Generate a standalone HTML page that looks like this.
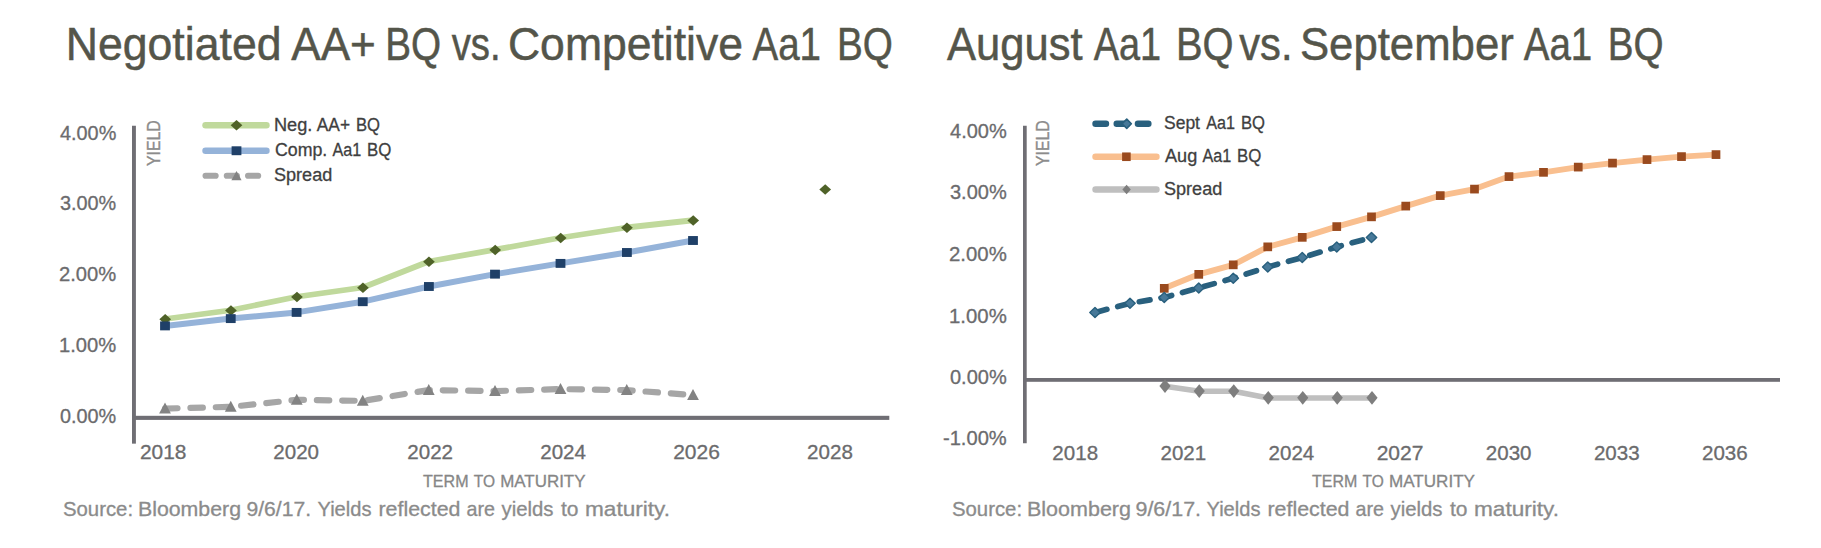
<!DOCTYPE html>
<html lang="en"><head><meta charset="utf-8"><title>Yield charts</title>
<style>
html,body{margin:0;padding:0;background:#fff;}
svg{display:block;font-family:"Liberation Sans", sans-serif;}
</style></head><body>
<svg width="1821" height="548" viewBox="0 0 1821 548">
<rect width="1821" height="548" fill="#ffffff"/>
<text y="60.4" font-size="45.5" fill="#54554a" stroke="#54554a" stroke-width="0.5"><tspan x="65.67" textLength="215.9" lengthAdjust="spacingAndGlyphs">Negotiated</tspan> <tspan x="291.22" textLength="84.61" lengthAdjust="spacingAndGlyphs">AA+</tspan> <tspan x="385.26" textLength="55.92" lengthAdjust="spacingAndGlyphs">BQ</tspan> <tspan x="451.7" textLength="48.96" lengthAdjust="spacingAndGlyphs">vs.</tspan> <tspan x="507.97" textLength="235.06" lengthAdjust="spacingAndGlyphs">Competitive</tspan> <tspan x="752.47" textLength="68.57" lengthAdjust="spacingAndGlyphs">Aa1</tspan> <tspan x="837.02" textLength="55.92" lengthAdjust="spacingAndGlyphs">BQ</tspan></text>
<text y="60.4" font-size="45.5" fill="#54554a" stroke="#54554a" stroke-width="0.5"><tspan x="947.0" textLength="135.51" lengthAdjust="spacingAndGlyphs">August</tspan> <tspan x="1093.71" textLength="67.35" lengthAdjust="spacingAndGlyphs">Aa1</tspan> <tspan x="1176.01" textLength="57.65" lengthAdjust="spacingAndGlyphs">BQ</tspan> <tspan x="1239.22" textLength="53.28" lengthAdjust="spacingAndGlyphs">vs.</tspan> <tspan x="1299.98" textLength="213.78" lengthAdjust="spacingAndGlyphs">September</tspan> <tspan x="1523.73" textLength="68.57" lengthAdjust="spacingAndGlyphs">Aa1</tspan> <tspan x="1607.79" textLength="55.84" lengthAdjust="spacingAndGlyphs">BQ</tspan></text>
<text y="139.6" font-size="20.2" fill="#6b6b6d" stroke="#6b6b6d" stroke-width="0.3"><tspan x="60.0" textLength="56.28" lengthAdjust="spacingAndGlyphs">4.00%</tspan></text>
<text y="210.35" font-size="20.2" fill="#6b6b6d" stroke="#6b6b6d" stroke-width="0.3"><tspan x="59.96" textLength="56.31" lengthAdjust="spacingAndGlyphs">3.00%</tspan></text>
<text y="281.1" font-size="20.2" fill="#6b6b6d" stroke="#6b6b6d" stroke-width="0.3"><tspan x="58.98" textLength="57.3" lengthAdjust="spacingAndGlyphs">2.00%</tspan></text>
<text y="351.85" font-size="20.2" fill="#6b6b6d" stroke="#6b6b6d" stroke-width="0.3"><tspan x="58.98" textLength="57.3" lengthAdjust="spacingAndGlyphs">1.00%</tspan></text>
<text y="422.6" font-size="20.2" fill="#6b6b6d" stroke="#6b6b6d" stroke-width="0.3"><tspan x="59.96" textLength="56.31" lengthAdjust="spacingAndGlyphs">0.00%</tspan></text>
<text y="459.4" font-size="20.2" fill="#6b6b6d" stroke="#6b6b6d" stroke-width="0.3"><tspan x="139.99" textLength="46.51" lengthAdjust="spacingAndGlyphs">2018</tspan></text>
<text y="459.4" font-size="20.2" fill="#6b6b6d" stroke="#6b6b6d" stroke-width="0.3"><tspan x="273.34" textLength="45.71" lengthAdjust="spacingAndGlyphs">2020</tspan></text>
<text y="459.4" font-size="20.2" fill="#6b6b6d" stroke="#6b6b6d" stroke-width="0.3"><tspan x="407.3" textLength="45.69" lengthAdjust="spacingAndGlyphs">2022</tspan></text>
<text y="459.4" font-size="20.2" fill="#6b6b6d" stroke="#6b6b6d" stroke-width="0.3"><tspan x="540.27" textLength="45.69" lengthAdjust="spacingAndGlyphs">2024</tspan></text>
<text y="459.4" font-size="20.2" fill="#6b6b6d" stroke="#6b6b6d" stroke-width="0.3"><tspan x="673.19" textLength="46.73" lengthAdjust="spacingAndGlyphs">2026</tspan></text>
<text y="459.4" font-size="20.2" fill="#6b6b6d" stroke="#6b6b6d" stroke-width="0.3"><tspan x="807.11" textLength="45.78" lengthAdjust="spacingAndGlyphs">2028</tspan></text>
<text y="486.5" font-size="16.5" fill="#868686" stroke="#868686" stroke-width="0.3"><tspan x="423.0" textLength="45.52" lengthAdjust="spacingAndGlyphs">TERM</tspan> <tspan x="473.73" textLength="21.27" lengthAdjust="spacingAndGlyphs">TO</tspan> <tspan x="500.23" textLength="85.28" lengthAdjust="spacingAndGlyphs">MATURITY</tspan></text>
<text y="516" font-size="20.3" fill="#8b8b8b" stroke="#8b8b8b" stroke-width="0.3"><tspan x="62.98" textLength="70.08" lengthAdjust="spacingAndGlyphs">Source:</tspan> <tspan x="137.98" textLength="103.05" lengthAdjust="spacingAndGlyphs">Bloomberg</tspan> <tspan x="246.45" textLength="64.6" lengthAdjust="spacingAndGlyphs">9/6/17.</tspan> <tspan x="317.49" textLength="54.03" lengthAdjust="spacingAndGlyphs">Yields</tspan> <tspan x="378.48" textLength="82.05" lengthAdjust="spacingAndGlyphs">reflected</tspan> <tspan x="466.49" textLength="28.53" lengthAdjust="spacingAndGlyphs">are</tspan> <tspan x="501.49" textLength="52.03" lengthAdjust="spacingAndGlyphs">yields</tspan> <tspan x="560.98" textLength="17.53" lengthAdjust="spacingAndGlyphs">to</tspan> <tspan x="584.96" textLength="85.09" lengthAdjust="spacingAndGlyphs">maturity.</tspan></text>
<text y="130.6" font-size="17.6" fill="#3f3f3f" stroke="#3f3f3f" stroke-width="0.3"><tspan x="273.94" textLength="38.39" lengthAdjust="spacingAndGlyphs">Neg.</tspan> <tspan x="316.75" textLength="33.26" lengthAdjust="spacingAndGlyphs">AA+</tspan> <tspan x="355.95" textLength="24.05" lengthAdjust="spacingAndGlyphs">BQ</tspan></text>
<text y="156" font-size="17.6" fill="#3f3f3f" stroke="#3f3f3f" stroke-width="0.3"><tspan x="275.0" textLength="52.28" lengthAdjust="spacingAndGlyphs">Comp.</tspan> <tspan x="332.49" textLength="28.76" lengthAdjust="spacingAndGlyphs">Aa1</tspan> <tspan x="366.95" textLength="24.32" lengthAdjust="spacingAndGlyphs">BQ</tspan></text>
<text y="181" font-size="17.6" fill="#3f3f3f" stroke="#3f3f3f" stroke-width="0.3"><tspan x="273.96" textLength="58.36" lengthAdjust="spacingAndGlyphs">Spread</tspan></text>
<text y="137.5" font-size="20.2" fill="#6b6b6d" stroke="#6b6b6d" stroke-width="0.3"><tspan x="950.0" textLength="56.78" lengthAdjust="spacingAndGlyphs">4.00%</tspan></text>
<text y="199.2" font-size="20.2" fill="#6b6b6d" stroke="#6b6b6d" stroke-width="0.3"><tspan x="949.96" textLength="56.81" lengthAdjust="spacingAndGlyphs">3.00%</tspan></text>
<text y="260.9" font-size="20.2" fill="#6b6b6d" stroke="#6b6b6d" stroke-width="0.3"><tspan x="948.98" textLength="57.81" lengthAdjust="spacingAndGlyphs">2.00%</tspan></text>
<text y="322.6" font-size="20.2" fill="#6b6b6d" stroke="#6b6b6d" stroke-width="0.3"><tspan x="948.98" textLength="57.81" lengthAdjust="spacingAndGlyphs">1.00%</tspan></text>
<text y="384.3" font-size="20.2" fill="#6b6b6d" stroke="#6b6b6d" stroke-width="0.3"><tspan x="949.96" textLength="56.81" lengthAdjust="spacingAndGlyphs">0.00%</tspan></text>
<text y="444.6" font-size="20.2" fill="#6b6b6d" stroke="#6b6b6d" stroke-width="0.3"><tspan x="942.97" textLength="63.81" lengthAdjust="spacingAndGlyphs">-1.00%</tspan></text>
<text y="459.5" font-size="20.2" fill="#6b6b6d" stroke="#6b6b6d" stroke-width="0.3"><tspan x="1052.39" textLength="45.71" lengthAdjust="spacingAndGlyphs">2018</tspan></text>
<text y="459.5" font-size="20.2" fill="#6b6b6d" stroke="#6b6b6d" stroke-width="0.3"><tspan x="1160.51" textLength="45.67" lengthAdjust="spacingAndGlyphs">2021</tspan></text>
<text y="459.5" font-size="20.2" fill="#6b6b6d" stroke="#6b6b6d" stroke-width="0.3"><tspan x="1268.61" textLength="45.66" lengthAdjust="spacingAndGlyphs">2024</tspan></text>
<text y="459.5" font-size="20.2" fill="#6b6b6d" stroke="#6b6b6d" stroke-width="0.3"><tspan x="1376.68" textLength="46.73" lengthAdjust="spacingAndGlyphs">2027</tspan></text>
<text y="459.5" font-size="20.2" fill="#6b6b6d" stroke="#6b6b6d" stroke-width="0.3"><tspan x="1485.83" textLength="45.67" lengthAdjust="spacingAndGlyphs">2030</tspan></text>
<text y="459.5" font-size="20.2" fill="#6b6b6d" stroke="#6b6b6d" stroke-width="0.3"><tspan x="1593.92" textLength="45.69" lengthAdjust="spacingAndGlyphs">2033</tspan></text>
<text y="459.5" font-size="20.2" fill="#6b6b6d" stroke="#6b6b6d" stroke-width="0.3"><tspan x="1701.98" textLength="45.71" lengthAdjust="spacingAndGlyphs">2036</tspan></text>
<text y="486.5" font-size="16.5" fill="#868686" stroke="#868686" stroke-width="0.3"><tspan x="1312.0" textLength="45.29" lengthAdjust="spacingAndGlyphs">TERM</tspan> <tspan x="1362.49" textLength="21.27" lengthAdjust="spacingAndGlyphs">TO</tspan> <tspan x="1388.99" textLength="86.01" lengthAdjust="spacingAndGlyphs">MATURITY</tspan></text>
<text y="516" font-size="20.3" fill="#8b8b8b" stroke="#8b8b8b" stroke-width="0.3"><tspan x="951.98" textLength="70.08" lengthAdjust="spacingAndGlyphs">Source:</tspan> <tspan x="1026.95" textLength="104.07" lengthAdjust="spacingAndGlyphs">Bloomberg</tspan> <tspan x="1135.46" textLength="65.63" lengthAdjust="spacingAndGlyphs">9/6/17.</tspan> <tspan x="1206.48" textLength="54.03" lengthAdjust="spacingAndGlyphs">Yields</tspan> <tspan x="1267.46" textLength="82.06" lengthAdjust="spacingAndGlyphs">reflected</tspan> <tspan x="1355.5" textLength="28.53" lengthAdjust="spacingAndGlyphs">are</tspan> <tspan x="1390.49" textLength="52.03" lengthAdjust="spacingAndGlyphs">yields</tspan> <tspan x="1449.97" textLength="17.53" lengthAdjust="spacingAndGlyphs">to</tspan> <tspan x="1473.97" textLength="85.08" lengthAdjust="spacingAndGlyphs">maturity.</tspan></text>
<text y="128.8" font-size="17.6" fill="#3f3f3f" stroke="#3f3f3f" stroke-width="0.3"><tspan x="1163.97" textLength="36.03" lengthAdjust="spacingAndGlyphs">Sept</tspan> <tspan x="1206.24" textLength="28.76" lengthAdjust="spacingAndGlyphs">Aa1</tspan> <tspan x="1240.95" textLength="24.05" lengthAdjust="spacingAndGlyphs">BQ</tspan></text>
<text y="161.8" font-size="17.6" fill="#3f3f3f" stroke="#3f3f3f" stroke-width="0.3"><tspan x="1165.0" textLength="32.27" lengthAdjust="spacingAndGlyphs">Aug</tspan> <tspan x="1202.49" textLength="28.76" lengthAdjust="spacingAndGlyphs">Aa1</tspan> <tspan x="1236.95" textLength="24.32" lengthAdjust="spacingAndGlyphs">BQ</tspan></text>
<text y="194.5" font-size="17.6" fill="#3f3f3f" stroke="#3f3f3f" stroke-width="0.3"><tspan x="1163.96" textLength="58.36" lengthAdjust="spacingAndGlyphs">Spread</tspan></text>
<text transform="translate(159.9 166) rotate(-90)" font-size="18.2" fill="#8c8c8c" textLength="45.6" lengthAdjust="spacingAndGlyphs" stroke="#8c8c8c" stroke-width="0.35">YIELD</text>
<text transform="translate(1049.4 166) rotate(-90)" font-size="18.2" fill="#8c8c8c" textLength="45.6" lengthAdjust="spacingAndGlyphs" stroke="#8c8c8c" stroke-width="0.35">YIELD</text>
<rect x="132" y="125.75" width="3.9" height="317.9" fill="#6f6e74"/>
<rect x="132" y="415.8" width="757.3" height="4.1" fill="#6f6e74"/>
<polyline points="165,408.6 230.75,406.85 296.75,399.85 362.75,400.85 428.75,390.1 495,391.1 560.5,389.1 626.75,390.1 693,395.1" fill="none" stroke="#a6a6a6" stroke-width="6.2" stroke-linecap="round" stroke-linejoin="round" stroke-dasharray="12.4 12.96" stroke-dashoffset="-0.1"/>
<polyline points="165,319.0 230.75,310.25 296.75,296.75 362.75,287.5 428.75,261.5 495,249.7 560.5,237.75 626.75,227.5 693,220.25" fill="none" stroke="#c0d99c" stroke-width="5.8" stroke-linecap="round" stroke-linejoin="round"/>
<path d="M159.35 319.3L165.2 314.1L171.04999999999998 319.3L165.2 324.5Z" fill="#4f6228"/>
<path d="M225.1 310.55L230.95 305.35L236.79999999999998 310.55L230.95 315.75Z" fill="#4f6228"/>
<path d="M291.09999999999997 297.05L296.95 291.85L302.8 297.05L296.95 302.25Z" fill="#4f6228"/>
<path d="M357.09999999999997 287.8L362.95 282.6L368.8 287.8L362.95 293.0Z" fill="#4f6228"/>
<path d="M423.09999999999997 261.8L428.95 256.6L434.8 261.8L428.95 267.0Z" fill="#4f6228"/>
<path d="M489.34999999999997 250.0L495.2 244.8L501.05 250.0L495.2 255.2Z" fill="#4f6228"/>
<path d="M554.85 238.05L560.7 232.85000000000002L566.5500000000001 238.05L560.7 243.25Z" fill="#4f6228"/>
<path d="M621.1 227.8L626.95 222.60000000000002L632.8000000000001 227.8L626.95 233.0Z" fill="#4f6228"/>
<path d="M687.35 220.55L693.2 215.35000000000002L699.0500000000001 220.55L693.2 225.75Z" fill="#4f6228"/>
<path d="M819.35 189.55L825.2 184.35000000000002L831.0500000000001 189.55L825.2 194.75Z" fill="#4f6228"/>
<polyline points="165,325.9 230.75,318.6 296.6,312.4 362.75,301.7 428.9,286.5 495,274.15 560.5,263.4 626.9,252.5 693,240.5" fill="none" stroke="#95b3d9" stroke-width="6.0" stroke-linecap="round" stroke-linejoin="round"/>
<rect x="160.1" y="321.45" width="9.8" height="8.9" fill="#1f4068"/>
<rect x="225.85" y="314.15000000000003" width="9.8" height="8.9" fill="#1f4068"/>
<rect x="291.70000000000005" y="307.95" width="9.8" height="8.9" fill="#1f4068"/>
<rect x="357.85" y="297.25" width="9.8" height="8.9" fill="#1f4068"/>
<rect x="424.0" y="282.05" width="9.8" height="8.9" fill="#1f4068"/>
<rect x="490.1" y="269.7" width="9.8" height="8.9" fill="#1f4068"/>
<rect x="555.6" y="258.95" width="9.8" height="8.9" fill="#1f4068"/>
<rect x="622.0" y="248.05" width="9.8" height="8.9" fill="#1f4068"/>
<rect x="688.1" y="236.05" width="9.8" height="8.9" fill="#1f4068"/>
<path d="M159.1 413.5L165 402.5L170.9 413.5Z" fill="#838383"/>
<path d="M224.85 411.75L230.75 400.75L236.65 411.75Z" fill="#838383"/>
<path d="M290.85 404.75L296.75 393.75L302.65 404.75Z" fill="#838383"/>
<path d="M356.85 405.75L362.75 394.75L368.65 405.75Z" fill="#838383"/>
<path d="M422.85 395.0L428.75 384.0L434.65 395.0Z" fill="#838383"/>
<path d="M489.1 396.0L495 385.0L500.9 396.0Z" fill="#838383"/>
<path d="M554.6 394.0L560.5 383.0L566.4 394.0Z" fill="#838383"/>
<path d="M620.85 395.0L626.75 384.0L632.65 395.0Z" fill="#838383"/>
<path d="M687.1 400.0L693 389.0L698.9 400.0Z" fill="#838383"/>
<polyline points="205.5,125.25 266.5,125.25" fill="none" stroke="#c0d99c" stroke-width="6.4" stroke-linecap="round" stroke-linejoin="round"/>
<path d="M230.65 125.25L236.5 120.05L242.35 125.25L236.5 130.45Z" fill="#4f6228"/>
<polyline points="205.5,150.75 266.5,150.75" fill="none" stroke="#95b3d9" stroke-width="6.4" stroke-linecap="round" stroke-linejoin="round"/>
<rect x="231.6" y="146.3" width="9.8" height="8.9" fill="#1f4068"/>
<polyline points="205.6,175.75 258.2,175.75" fill="none" stroke="#a6a6a6" stroke-width="6.2" stroke-linecap="round" stroke-linejoin="round" stroke-dasharray="10 11.25"/>
<path d="M231.4 180.2L236.5 171.0L241.6 180.2Z" fill="#838383"/>
<rect x="1023" y="125.75" width="3.7" height="317.5" fill="#6f6e74"/>
<rect x="1023" y="378" width="757" height="3.8" fill="#6f6e74"/>
<polyline points="1165,386.25 1199.25,391.25 1233.75,391.25 1268.25,398 1302.75,398 1337.25,398 1372,398" fill="none" stroke="#bfbfbf" stroke-width="5.5" stroke-linecap="round" stroke-linejoin="round"/>
<path d="M1159.4 386.05L1165 379.15000000000003L1170.6 386.05L1165 392.95Z" fill="#7e7e7e"/>
<path d="M1193.65 391.05L1199.25 384.15000000000003L1204.85 391.05L1199.25 397.95Z" fill="#7e7e7e"/>
<path d="M1228.15 391.05L1233.75 384.15000000000003L1239.35 391.05L1233.75 397.95Z" fill="#7e7e7e"/>
<path d="M1262.65 397.8L1268.25 390.90000000000003L1273.85 397.8L1268.25 404.7Z" fill="#7e7e7e"/>
<path d="M1297.15 397.8L1302.75 390.90000000000003L1308.35 397.8L1302.75 404.7Z" fill="#7e7e7e"/>
<path d="M1331.65 397.8L1337.25 390.90000000000003L1342.85 397.8L1337.25 404.7Z" fill="#7e7e7e"/>
<path d="M1366.4 397.8L1372 390.90000000000003L1377.6 397.8L1372 404.7Z" fill="#7e7e7e"/>
<polyline points="1164.25,288.35 1198.75,274.35 1233.25,264.85 1267.75,246.85 1302.25,237.35 1336.75,226.6 1371.5,216.85 1405.75,206.1 1440.25,195.6 1474.5,189.1 1509,176.6 1543.5,172.35 1578.25,167.1 1612.5,163.1 1647,159.6 1681.5,156.6 1716,154.6" fill="none" stroke="#f9bf8f" stroke-width="5.9" stroke-linecap="round" stroke-linejoin="round"/>
<rect x="1159.9" y="284.0" width="8.7" height="8.7" fill="#9a4a1e"/>
<rect x="1194.4" y="270.0" width="8.7" height="8.7" fill="#9a4a1e"/>
<rect x="1228.9" y="260.5" width="8.7" height="8.7" fill="#9a4a1e"/>
<rect x="1263.4" y="242.5" width="8.7" height="8.7" fill="#9a4a1e"/>
<rect x="1297.9" y="233.0" width="8.7" height="8.7" fill="#9a4a1e"/>
<rect x="1332.4" y="222.25" width="8.7" height="8.7" fill="#9a4a1e"/>
<rect x="1367.15" y="212.5" width="8.7" height="8.7" fill="#9a4a1e"/>
<rect x="1401.4" y="201.75" width="8.7" height="8.7" fill="#9a4a1e"/>
<rect x="1435.9" y="191.25" width="8.7" height="8.7" fill="#9a4a1e"/>
<rect x="1470.15" y="184.75" width="8.7" height="8.7" fill="#9a4a1e"/>
<rect x="1504.65" y="172.25" width="8.7" height="8.7" fill="#9a4a1e"/>
<rect x="1539.15" y="168.0" width="8.7" height="8.7" fill="#9a4a1e"/>
<rect x="1573.9" y="162.75" width="8.7" height="8.7" fill="#9a4a1e"/>
<rect x="1608.15" y="158.75" width="8.7" height="8.7" fill="#9a4a1e"/>
<rect x="1642.65" y="155.25" width="8.7" height="8.7" fill="#9a4a1e"/>
<rect x="1677.15" y="152.25" width="8.7" height="8.7" fill="#9a4a1e"/>
<rect x="1711.65" y="150.25" width="8.7" height="8.7" fill="#9a4a1e"/>
<polyline points="1095,312.5 1130,303.25 1164.25,297.5 1198.75,288 1233.25,278.25 1267.75,267 1302.25,257.5 1336.75,247 1371.5,237.5" fill="none" stroke="#29607e" stroke-width="5.7" stroke-linecap="round" stroke-linejoin="round" stroke-dasharray="10.9 11.2" stroke-dashoffset="-1.4"/>
<path d="M1089.8 312.5L1095 307.4L1100.2 312.5L1095 317.6Z" fill="#477999" stroke="#29607e" stroke-width="1.4" stroke-linejoin="round"/>
<path d="M1124.8 303.25L1130 298.15L1135.2 303.25L1130 308.35Z" fill="#477999" stroke="#29607e" stroke-width="1.4" stroke-linejoin="round"/>
<path d="M1159.05 297.5L1164.25 292.4L1169.45 297.5L1164.25 302.6Z" fill="#477999" stroke="#29607e" stroke-width="1.4" stroke-linejoin="round"/>
<path d="M1193.55 288L1198.75 282.9L1203.95 288L1198.75 293.1Z" fill="#477999" stroke="#29607e" stroke-width="1.4" stroke-linejoin="round"/>
<path d="M1228.05 278.25L1233.25 273.15L1238.45 278.25L1233.25 283.35Z" fill="#477999" stroke="#29607e" stroke-width="1.4" stroke-linejoin="round"/>
<path d="M1262.55 267L1267.75 261.9L1272.95 267L1267.75 272.1Z" fill="#477999" stroke="#29607e" stroke-width="1.4" stroke-linejoin="round"/>
<path d="M1297.05 257.5L1302.25 252.4L1307.45 257.5L1302.25 262.6Z" fill="#477999" stroke="#29607e" stroke-width="1.4" stroke-linejoin="round"/>
<path d="M1331.55 247L1336.75 241.9L1341.95 247L1336.75 252.1Z" fill="#477999" stroke="#29607e" stroke-width="1.4" stroke-linejoin="round"/>
<path d="M1366.3 237.5L1371.5 232.4L1376.7 237.5L1371.5 242.6Z" fill="#477999" stroke="#29607e" stroke-width="1.4" stroke-linejoin="round"/>
<polyline points="1095.5,123.75 1148.5,123.75" fill="none" stroke="#29607e" stroke-width="6.4" stroke-linecap="round" stroke-linejoin="round" stroke-dasharray="10.5 10.7"/>
<path d="M1122.15 123.75L1126.75 119.15L1131.35 123.75L1126.75 128.35Z" fill="#477999" stroke="#29607e" stroke-width="1.6" stroke-linejoin="round"/>
<polyline points="1095.5,156.75 1156.5,156.75" fill="none" stroke="#f9bf8f" stroke-width="6.4" stroke-linecap="round" stroke-linejoin="round"/>
<rect x="1122.1000000000001" y="152.45" width="8.6" height="8.6" fill="#9a4a1e"/>
<polyline points="1095.5,189.5 1156.5,189.5" fill="none" stroke="#bfbfbf" stroke-width="6.4" stroke-linecap="round" stroke-linejoin="round"/>
<path d="M1122.3999999999999 189.5L1126.6 184.7L1130.8 189.5L1126.6 194.3Z" fill="#7e7e7e"/>
</svg>
</body></html>
